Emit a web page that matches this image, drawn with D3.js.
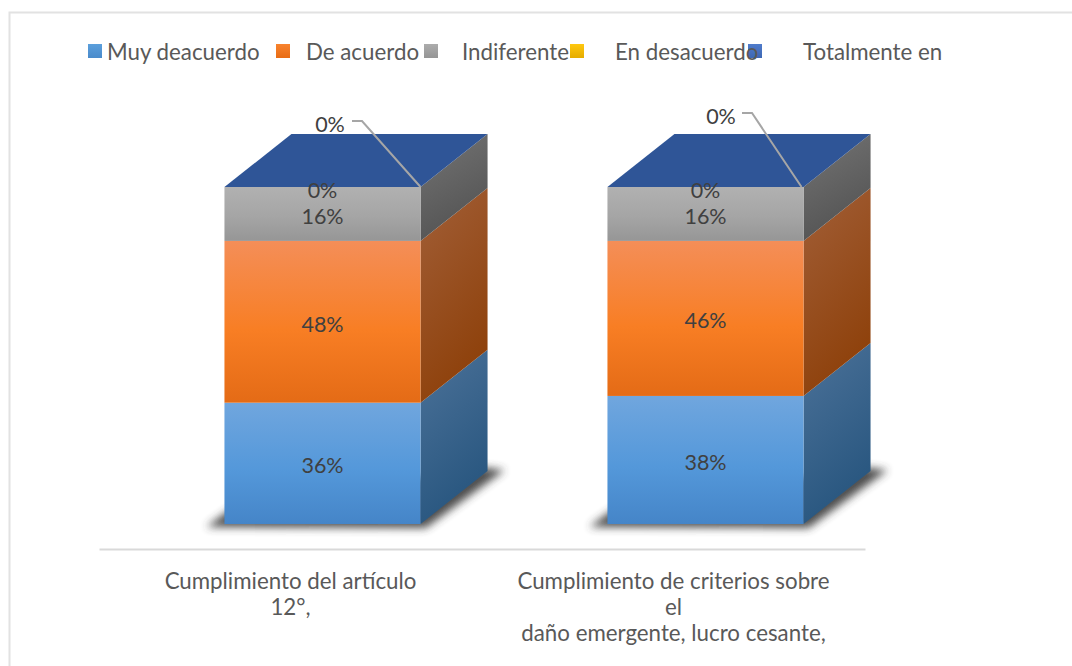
<!DOCTYPE html>
<html>
<head>
<meta charset="utf-8">
<script src="https://cdn.jsdelivr.net/npm/d3@7"></script>
<style>
    body { margin: 0; background: #fff; }
    svg { display: block; }
    text { font-family: Lato, "Open Sans", sans-serif; }
</style>
</head>
<body>
<svg id="chart"></svg>
<script>
const categories = ['Cumplimiento del artículo 12°,', 'Cumplimiento de criterios sobre el daño emergente, lucro cesante,'];
const categoryLines = [
    ['Cumplimiento del artículo', '12°,'],
    ['Cumplimiento de criterios sobre', 'el', 'daño emergente, lucro cesante,']
];
const seriesNames = ['Muy deacuerdo', 'De acuerdo', 'Indiferente', 'En desacuerdo', 'Totalmente en'];
const muyDeacuerdo = [36, 38];
const deAcuerdo = [48, 46];
const indiferente = [16, 16];
const enDesacuerdo = [0, 0];
const totalmenteEn = [0, 0];

const width = 1072, height = 666;
const depthX = 67, depthY = 53;

// front top, front mid, front bottom, side start, side end, legend top, legend bottom
const palette = [
    ['#70a6de', '#5498da', '#4585c8', '#4c7299', '#28567f', '#5b9fdc', '#4a8bcb'],
    ['#f48e58', '#f87e24', '#e46b16', '#a25f38', '#8e410b', '#f8832e', '#e86c14'],
    ['#b1b1b1', '#a5a5a5', '#969696', '#747474', '#545454', '#acacac', '#959595'],
    ['#ffd040', '#ffc000', '#e0a800', '#997300', '#7a5c00', '#ffc80f', '#e5ac00'],
    ['#5a82cc', '#4472c4', '#3a64ae', '#2f5597', '#264478', '#4f7bcb', '#3d68b4']
];
const topColor = '#2f5597';
const legendSwatchX = [88, 276, 424, 570, 748];
const legendTextX = [107, 306, 462, 615, 803];
const leaderLabels = [{ x: 330, y: 124, elbow: 352, bend: 362 }, { x: 721, y: 116, elbow: 742, bend: 752 }];

const rows = categories.map((c, i) => ({
    category: c,
    [seriesNames[0]]: muyDeacuerdo[i],
    [seriesNames[1]]: deAcuerdo[i],
    [seriesNames[2]]: indiferente[i],
    [seriesNames[3]]: enDesacuerdo[i],
    [seriesNames[4]]: totalmenteEn[i]
}));
const stacked = d3.stack().keys(seriesNames)(rows);

const svg = d3.select('#chart').attr('width', width).attr('height', height);
const defs = svg.append('defs');

defs.append('filter').attr('id', 'shadowBlur')
    .attr('x', '-20%').attr('y', '-40%').attr('width', '140%').attr('height', '180%')
    .append('feGaussianBlur').attr('stdDeviation', 4);

palette.forEach((p, i) => {
    const front = defs.append('linearGradient').attr('id', `front${i}`)
        .attr('x1', 0).attr('y1', 0).attr('x2', 0).attr('y2', 1);
    front.append('stop').attr('offset', '0%').attr('stop-color', p[0]);
    front.append('stop').attr('offset', '55%').attr('stop-color', p[1]);
    front.append('stop').attr('offset', '100%').attr('stop-color', p[2]);
    const side = defs.append('linearGradient').attr('id', `side${i}`)
        .attr('x1', 0).attr('y1', 0).attr('x2', 0.35).attr('y2', 1);
    side.append('stop').attr('offset', '0%').attr('stop-color', p[3]);
    side.append('stop').attr('offset', '100%').attr('stop-color', p[4]);
    const swatch = defs.append('linearGradient').attr('id', `swatch${i}`)
        .attr('x1', 0).attr('y1', 0).attr('x2', 0).attr('y2', 1);
    swatch.append('stop').attr('offset', '0%').attr('stop-color', p[5]);
    swatch.append('stop').attr('offset', '100%').attr('stop-color', p[6]);
});

// chart frame, runs off the right and bottom of the picture
svg.append('path')
    .attr('d', `M9.5,${height}V12.5H${width}`)
    .attr('fill', 'none')
    .attr('stroke', '#e2e2e2')
    .attr('stroke-width', 2);

// scales: the band is the floor of the box, the front face sits shifted from the axis
const xscale = d3.scaleBand().domain(categories).range([99, 865])
    .paddingInner(0.488).paddingOuter(0.244);
const yscale = d3.scaleLinear().domain([0, 100]).range([524, 187]);
const frontShift = 32;
const frontX = c => xscale(c) + frontShift;
const bw = xscale.bandwidth();
const line = d3.line();

// shadows under the boxes
svg.append('g').selectAll('path')
    .data(categories)
    .join('path')
    .attr('d', c => line([
        [frontX(c) - 18, yscale(0) + 3],
        [frontX(c) + bw + 5, yscale(0) + 4],
        [frontX(c) + bw + depthX + 17, yscale(0) - depthY - 1],
        [frontX(c) + bw + depthX - 10, yscale(0) - depthY - 4],
        [frontX(c) + 5, yscale(0) - 14]
    ]) + 'Z')
    .attr('fill', '#3a3a3a')
    .attr('opacity', 0.9)
    .attr('filter', 'url(#shadowBlur)');

// axis
const xaxis = d3.axisBottom(xscale).tickSize(0).tickPadding(0);
const xaxisGroup = svg.append('g')
    .attr('transform', 'translate(0, 549)')
    .call(xaxis);
xaxisGroup.select('.domain').attr('stroke', '#d9d9d9').attr('stroke-width', 2);
xaxisGroup.selectAll('.tick text').each(function (d, i) {
    const t = d3.select(this).text(null)
        .attr('y', 0).attr('dy', null)
        .attr('font-size', 22.3)
        .attr('fill', '#595959')
        .style('font-family', 'Lato, "Open Sans", sans-serif');
    categoryLines[i].forEach((l, j) => {
        t.append('tspan').attr('x', 0).attr('y', 40 + j * 26).text(l);
    });
});

// boxes: side faces first, then the front faces
const boxes = svg.append('g');
stacked.forEach((s, i) => {
    const g = boxes.append('g');
    g.selectAll('.side')
        .data(s)
        .join('path')
        .attr('class', 'side')
        .attr('d', d => {
            const x = frontX(d.data.category) + bw;
            return line([
                [x, yscale(d[0])], [x + depthX, yscale(d[0]) - depthY],
                [x + depthX, yscale(d[1]) - depthY], [x, yscale(d[1])]
            ]) + 'Z';
        })
        .attr('fill', `url(#side${i})`);
    g.selectAll('.front')
        .data(s)
        .join('rect')
        .attr('class', 'front')
        .attr('x', d => frontX(d.data.category))
        .attr('y', d => yscale(d[1]))
        .attr('width', bw)
        .attr('height', d => yscale(d[0]) - yscale(d[1]))
        .attr('fill', `url(#front${i})`);
});

// top faces
boxes.append('g').selectAll('path')
    .data(categories)
    .join('path')
    .attr('d', c => line([
        [frontX(c), yscale(100)], [frontX(c) + bw, yscale(100)],
        [frontX(c) + bw + depthX, yscale(100) - depthY], [frontX(c) + depthX, yscale(100) - depthY]
    ]) + 'Z')
    .attr('fill', topColor);

// value labels on the front faces (last series goes on a leader line instead)
stacked.slice(0, 4).forEach(s => {
    svg.append('g').selectAll('text')
        .data(s)
        .join('text')
        .attr('x', d => frontX(d.data.category) + bw / 2)
        .attr('y', d => yscale((d[0] + d[1]) / 2) + (d[1] - d[0] === 0 ? 3 : 2.5))
        .attr('dy', '0.35em')
        .attr('text-anchor', 'middle')
        .attr('font-size', 21.5)
        .attr('fill', '#404040')
        .text(d => `${d[1] - d[0]}%`);
});

// leader lines for the last series
categories.forEach((c, i) => {
    const l = leaderLabels[i];
    svg.append('path')
        .attr('d', line([[l.elbow, l.y - 3], [l.bend, l.y - 3], [frontX(c) + bw - (i === 0 ? 0 : 2), yscale(100)]]))
        .attr('fill', 'none')
        .attr('stroke', '#a6a6a6')
        .attr('stroke-width', 2);
    svg.append('text')
        .attr('x', l.x)
        .attr('y', l.y)
        .attr('dy', '0.35em')
        .attr('text-anchor', 'middle')
        .attr('font-size', 21.5)
        .attr('fill', '#404040')
        .text(`${totalmenteEn[i]}%`);
});

// legend: swatches below the names, "En desacuerdo" runs over the next swatch
const legend = svg.append('g');
seriesNames.forEach((name, i) => {
    legend.append('rect')
        .attr('x', legendSwatchX[i]).attr('y', 44)
        .attr('width', 14).attr('height', 14)
        .attr('fill', `url(#swatch${i})`);
});
seriesNames.forEach((name, i) => {
    legend.append('text')
        .attr('x', legendTextX[i]).attr('y', 52)
        .attr('dy', '0.35em')
        .attr('font-size', 22.3)
        .attr('fill', '#595959')
        .text(name);
});
</script>
</body>
</html>
